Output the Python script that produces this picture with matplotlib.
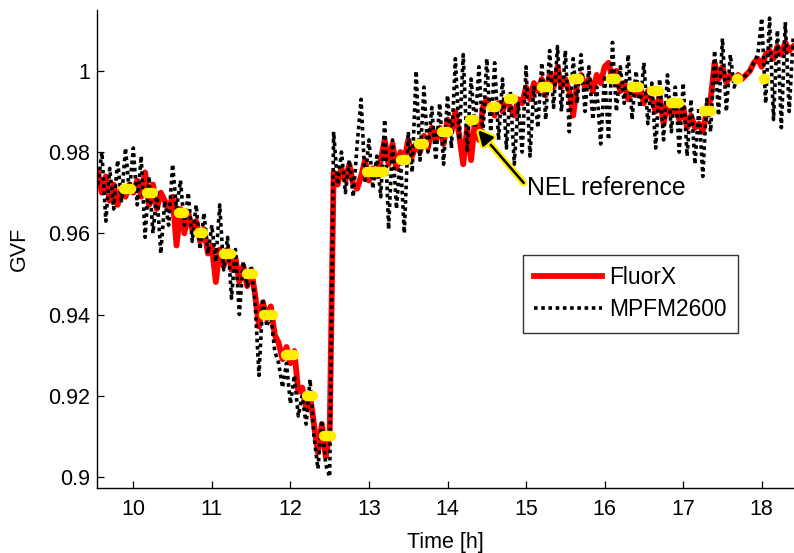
import matplotlib
matplotlib.use("Agg")
import matplotlib.pyplot as plt
import matplotlib.patheffects as pe

plt.rcParams["font.family"] = ["Liberation Sans", "DejaVu Sans"]

# sample times [h]
time_h = [
    9.55, 9.60, 9.65, 9.70, 9.75, 9.80, 9.85, 9.90, 9.95,
    10.00, 10.05, 10.10, 10.15, 10.20, 10.25, 10.30, 10.35, 10.40, 10.45,
    10.50, 10.55, 10.60, 10.65, 10.70, 10.75, 10.80, 10.85, 10.90, 10.95,
    11.00, 11.05, 11.10, 11.15, 11.20, 11.25, 11.30, 11.35, 11.40, 11.45,
    11.50, 11.55, 11.60, 11.65, 11.70, 11.75, 11.80, 11.85, 11.90, 11.95,
    12.00, 12.05, 12.10, 12.15, 12.20, 12.25, 12.30, 12.35, 12.40, 12.45,
    12.50, 12.55, 12.60, 12.65, 12.70, 12.75, 12.80, 12.85, 12.90, 12.95,
    13.00, 13.05, 13.10, 13.15, 13.20, 13.25, 13.30, 13.35, 13.40, 13.45,
    13.50, 13.55, 13.60, 13.65, 13.70, 13.75, 13.80, 13.85, 13.90, 13.95,
    14.00, 14.05, 14.10, 14.15, 14.20, 14.25, 14.30, 14.35, 14.40, 14.45,
    14.50, 14.55, 14.60, 14.65, 14.70, 14.75, 14.80, 14.85, 14.90, 14.95,
    15.00, 15.05, 15.10, 15.15, 15.20, 15.25, 15.30, 15.35, 15.40, 15.45,
    15.50, 15.55, 15.60, 15.65, 15.70, 15.75, 15.80, 15.85, 15.90, 15.95,
    16.00, 16.05, 16.10, 16.15, 16.20, 16.25, 16.30, 16.35, 16.40, 16.45,
    16.50, 16.55, 16.60, 16.65, 16.70, 16.75, 16.80, 16.85, 16.90, 16.95,
    17.00, 17.05, 17.10, 17.15, 17.20, 17.25, 17.30, 17.35, 17.40, 17.45,
    17.50, 17.55, 17.60, 17.65, 17.70, 17.75, 17.80, 17.85, 17.90, 17.95,
    18.00, 18.05, 18.10, 18.15, 18.20, 18.25, 18.30, 18.35, 18.40,
]

# FluorX GVF
fluorx = [
    0.975, 0.970, 0.974, 0.968, 0.972, 0.967, 0.971, 0.969, 0.972,
    0.970, 0.973, 0.969, 0.975, 0.967, 0.972, 0.966, 0.970, 0.968, 0.966,
    0.969, 0.957, 0.966, 0.960, 0.965, 0.961, 0.963, 0.958, 0.961, 0.955,
    0.957, 0.948, 0.956, 0.952, 0.956, 0.951, 0.954, 0.948, 0.952, 0.947,
    0.951, 0.945, 0.937, 0.943, 0.939, 0.942, 0.935, 0.933, 0.929, 0.932,
    0.928, 0.931, 0.921, 0.922, 0.917, 0.920, 0.913, 0.906, 0.913, 0.905,
    0.911, 0.975, 0.972, 0.976, 0.973, 0.977, 0.972, 0.971, 0.974, 0.978,
    0.973, 0.976, 0.974, 0.978, 0.983, 0.977, 0.982, 0.976, 0.980, 0.978,
    0.983, 0.979, 0.982, 0.980, 0.984, 0.981, 0.986, 0.983, 0.986, 0.982,
    0.988, 0.985, 0.990, 0.984, 0.977, 0.986, 0.978, 0.988, 0.983, 0.991,
    0.993, 0.991, 0.989, 0.992, 0.990, 0.993, 0.991, 0.989, 0.993, 0.992,
    0.996, 0.993, 0.997, 0.995, 0.998, 0.994, 0.999, 0.996, 1.001, 0.996,
    0.998, 0.995, 0.989, 0.997, 0.999, 0.996, 0.998, 0.995, 0.999, 0.997,
    1.001, 1.002, 0.998, 1.000, 0.995, 0.997, 0.993, 0.996, 0.994, 0.996,
    0.992, 0.995, 0.993, 0.990, 0.994, 0.987, 0.992, 0.989, 0.992, 0.988,
    0.991, 0.986, 0.989, 0.986, 0.987, 0.985, 0.990, 0.993, 1.002, 0.998,
    1.001, 0.997, 0.999, 0.998, 0.999, 0.998, 0.999, 1.000, 1.002, 1.003,
    1.001, 1.004, 1.005, 1.003, 1.006, 1.004, 1.007, 1.005, 1.006,
]

# MPFM2600 GVF
mpfm = [
    0.972, 0.980, 0.963, 0.976, 0.966, 0.978, 0.968, 0.981, 0.970,
    0.981, 0.967, 0.979, 0.959, 0.974, 0.960, 0.970, 0.955, 0.968, 0.962,
    0.977, 0.966, 0.973, 0.962, 0.970, 0.958, 0.967, 0.956, 0.965, 0.955,
    0.962, 0.953, 0.967, 0.951, 0.959, 0.944, 0.956, 0.940, 0.953, 0.947,
    0.952, 0.943, 0.925, 0.944, 0.937, 0.940, 0.931, 0.928, 0.922, 0.928,
    0.918, 0.925, 0.915, 0.920, 0.913, 0.924, 0.910, 0.902, 0.914, 0.903,
    0.900, 0.985, 0.972, 0.980, 0.970, 0.978, 0.969, 0.982, 0.993, 0.973,
    0.983, 0.971, 0.979, 0.969, 0.988, 0.961, 0.983, 0.966, 0.979, 0.960,
    0.985, 0.975, 1.000, 0.978, 0.996, 0.980, 0.991, 0.978, 0.992, 0.977,
    0.994, 0.981, 1.003, 0.983, 1.004, 0.980, 0.998, 0.986, 1.001, 0.984,
    1.003, 0.985, 1.002, 0.983, 0.998, 0.981, 0.995, 0.977, 0.992, 0.980,
    1.001, 0.979, 0.996, 0.986, 1.002, 0.988, 1.005, 0.991, 1.006, 0.990,
    1.005, 0.985, 1.003, 0.992, 1.004, 0.990, 1.001, 0.988, 0.996, 0.982,
    0.999, 0.983, 1.007, 0.990, 1.001, 0.992, 1.004, 0.988, 1.000, 0.991,
    1.002, 0.987, 0.997, 0.981, 0.998, 0.983, 0.999, 0.985, 0.996, 0.980,
    0.997, 0.979, 0.993, 0.977, 0.991, 0.974, 0.993, 0.985, 1.005, 0.989,
    1.008, 0.990, 1.004, 0.996, 0.999, 0.998, 0.999, 1.000, 1.002, 1.004,
    1.013, 0.992, 1.013, 0.988, 1.010, 0.986, 1.012, 0.990, 1.008,
]

# NEL reference test points: start / end time [h] and GVF
ref_start = [9.885, 10.17, 10.58, 10.835, 11.155, 11.45, 11.66, 11.95, 12.21,
             12.425, 12.97, 13.41, 13.64, 13.93, 14.28, 14.56, 14.78, 15.20,
             15.61, 16.08, 16.345, 16.605, 16.85, 17.265, 17.68, 18.035]
ref_end = [9.975, 10.25, 10.64, 10.885, 11.245, 11.53, 11.78, 12.05, 12.29,
           12.515, 13.19, 13.47, 13.70, 14.01, 14.34, 14.62, 14.84, 15.28,
           15.67, 16.14, 16.435, 16.695, 16.95, 17.355, 17.70, 18.045]
ref_gvf = [0.971, 0.970, 0.965, 0.960, 0.955, 0.950, 0.940, 0.930, 0.920,
           0.910, 0.975, 0.978, 0.982, 0.985, 0.988, 0.991, 0.993, 0.996,
           0.998, 0.998, 0.996, 0.995, 0.992, 0.990, 0.998, 0.998]

fig = plt.figure(figsize=(7.94, 5.53), dpi=100)
ax = fig.add_axes([0.1218, 0.117, 0.8782, 0.865])

ax.plot(time_h, fluorx, color="#ff0000", lw=4.2, solid_joinstyle="round",
        label="FluorX", zorder=2)
ax.plot(time_h, mpfm, color="black", lw=2.6, ls=(0, (1, 1.0)),
        label="MPFM2600", zorder=3)
for t0, t1, g in zip(ref_start, ref_end, ref_gvf):
    ax.plot([t0, t1], [g, g], color="#ffee00", lw=7.5, solid_capstyle="round",
            zorder=4)

# arrow pointing at the reference points
ann = ax.annotate("", xy=(14.39, 0.9854), xytext=(14.97, 0.9724),
                  arrowprops=dict(arrowstyle="-|>", color="black", lw=1.8,
                                  mutation_scale=22, shrinkA=0, shrinkB=0),
                  zorder=5)
ann.arrow_patch.set_path_effects([pe.Stroke(linewidth=5, foreground="#ffee00"),
                                  pe.Normal()])
ax.text(15.01, 0.9712, "NEL reference", fontsize=17.8, ha="left", va="center")

ax.set_xlim(9.534, 18.411)
ax.set_ylim(0.8972, 1.015)
ax.set_xticks([10, 11, 12, 13, 14, 15, 16, 17, 18])
ax.set_yticks([0.9, 0.92, 0.94, 0.96, 0.98, 1.0])
ax.set_yticklabels(["0.9", "0.92", "0.94", "0.96", "0.98", "1"])
ax.tick_params(direction="in", length=5, width=0.9, labelsize=15.5)
ax.tick_params(axis="x", pad=8)
ax.tick_params(axis="y", pad=5)
for side in ("top", "right"):
    ax.spines[side].set_visible(False)
for side in ("left", "bottom"):
    ax.spines[side].set_linewidth(1.0)

ax.set_xlabel("Time [h]", fontsize=15.5, labelpad=8)
ax.set_ylabel("GVF", fontsize=15.5, labelpad=13)

leg = ax.legend(loc="upper left", bbox_to_anchor=(0.611, 0.488), borderaxespad=0,
                fontsize=16.4, handlelength=3.0, handletextpad=0.3,
                borderpad=0.5, labelspacing=0.4, fancybox=False,
                framealpha=1, edgecolor="#333333")
leg.get_frame().set_linewidth(1.0)

fig.savefig("out.png", dpi=100)
